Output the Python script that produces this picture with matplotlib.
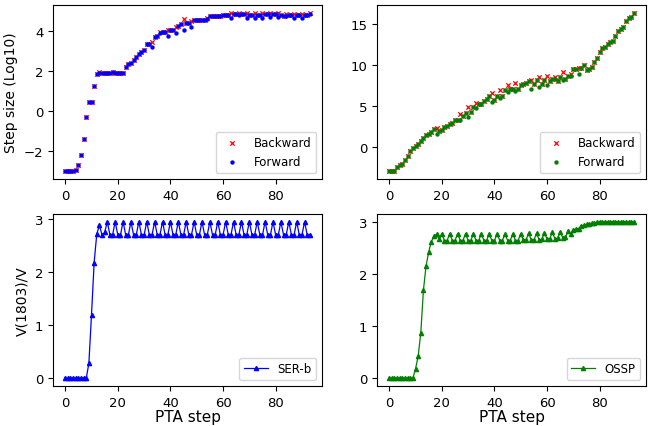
import numpy as np
import matplotlib
matplotlib.use('Agg')
import matplotlib.pyplot as plt

# PTA 步數
steps = np.arange(94)

# 左上：步長 (log10)
ser_forward = [-3.0, -3.0, -3.0, -3.0, -2.95, -2.7, -2.2, -1.4, -0.3, 0.45,
               0.45, 1.25, 1.85, 1.9, 1.88, 1.88, 1.88, 1.88, 1.93, 1.9,
               1.9, 1.9, 1.9, 2.18, 2.35, 2.4, 2.57, 2.7, 2.87, 2.97,
               3.05, 3.35, 3.35, 3.18, 3.68, 3.77, 3.88, 3.97, 3.97, 3.77,
               4.07, 4.07, 3.9, 4.23, 4.35, 4.05, 4.4, 4.4, 4.22, 4.52,
               4.52, 4.52, 4.52, 4.52, 4.6, 4.73, 4.73, 4.73, 4.73, 4.73,
               4.78, 4.8, 4.8, 4.65, 4.82, 4.82, 4.8, 4.82, 4.82, 4.65,
               4.8, 4.8, 4.65, 4.8, 4.8, 4.65, 4.82, 4.82, 4.68, 4.82,
               4.82, 4.68, 4.8, 4.75, 4.75, 4.78, 4.78, 4.65, 4.8, 4.8,
               4.65, 4.8, 4.8, 4.85]
ser_backward = [-3.0, -3.0, -3.0, -3.0, -2.95, -2.7, -2.2, -1.4, -0.3, 0.45,
                0.45, 1.25, 1.85, 1.97, 1.88, 1.88, 1.88, 1.88, 1.93, 1.9,
                1.9, 1.9, 1.9, 2.18, 2.35, 2.4, 2.57, 2.7, 2.87, 2.97,
                3.05, 3.35, 3.35, 3.47, 3.68, 3.77, 3.93, 3.97, 3.97, 4.07,
                4.07, 4.07, 4.18, 4.23, 4.35, 4.6, 4.4, 4.4, 4.47, 4.52,
                4.52, 4.52, 4.52, 4.52, 4.62, 4.73, 4.73, 4.73, 4.73, 4.73,
                4.78, 4.8, 4.8, 4.9, 4.82, 4.82, 4.9, 4.82, 4.82, 4.88,
                4.8, 4.8, 4.88, 4.8, 4.8, 4.9, 4.82, 4.82, 4.9, 4.82,
                4.82, 4.88, 4.8, 4.75, 4.85, 4.78, 4.78, 4.85, 4.8, 4.8,
                4.85, 4.8, 4.8, 4.88]

# 右上：步長
ossp_forward = [-3.0, -3.0, -3.0, -2.5, -2.24, -2.1, -1.7, -1.2, -0.6, -0.2,
                0.1, 0.3, 0.65, 1.0, 1.4, 1.6, 1.74, 2.15, 1.6, 1.94,
                2.0, 2.43, 2.55, 2.75, 2.9, 3.25, 3.3, 3.3, 3.77, 4.1,
                3.57, 4.18, 4.8, 4.67, 5.2, 5.2, 5.6, 5.8, 6.2, 5.48,
                5.72, 6.2, 5.9, 6.2, 6.94, 6.7, 7.0, 7.1, 6.8, 7.1,
                7.5, 7.63, 7.84, 8.04, 7.1, 7.63, 8.1, 7.35, 7.63, 8.16,
                7.5, 8.04, 8.24, 8.3, 8.04, 8.57, 8.16, 8.3, 8.65, 8.65,
                9.46, 9.55, 8.85, 9.67, 10.0, 9.34, 9.5, 9.8, 10.4, 10.85,
                11.6, 12.07, 12.23, 12.5, 12.8, 12.92, 13.6, 14.2, 14.35, 14.67,
                15.36, 15.76, 15.9, 16.37]
ossp_backward = [-3.0, -3.0, -3.0, -2.5, -2.24, -2.1, -1.7, -1.2, -0.6, -0.2,
                 0.1, 0.3, 0.65, 1.0, 1.4, 1.6, 1.74, 2.15, 2.23, 1.94,
                 2.0, 2.43, 2.55, 2.75, 2.9, 3.25, 3.3, 4.0, 3.77, 4.1,
                 4.79, 4.18, 4.8, 5.3, 5.2, 5.2, 5.6, 5.8, 6.2, 6.5,
                 5.72, 6.2, 6.94, 6.2, 6.94, 7.5, 7.0, 7.1, 7.84, 7.1,
                 7.5, 7.63, 7.84, 8.04, 8.16, 7.63, 8.1, 8.5, 7.63, 8.16,
                 8.7, 8.04, 8.24, 8.5, 8.04, 8.57, 9.18, 8.3, 8.65, 8.85,
                 9.46, 9.55, 9.6, 9.67, 10.0, 9.34, 9.5, 9.8, 10.4, 10.85,
                 11.6, 12.07, 12.23, 12.5, 12.8, 12.92, 13.6, 14.2, 14.35, 14.67,
                 15.36, 15.76, 15.9, 16.37]

# 左下：SER-b 電壓比
ser_v = [0.0, 0.0, 0.0, 0.0, 0.0, 0.0, 0.0, 0.0, 0.0, 0.28,
         1.2, 2.18, 2.72, 2.88, 2.7, 2.75, 2.95, 2.7, 2.7, 2.95,
         2.7, 2.7, 2.95, 2.7, 2.7, 2.95, 2.7, 2.7, 2.95, 2.7,
         2.7, 2.95, 2.7, 2.7, 2.95, 2.7, 2.7, 2.95, 2.7, 2.7,
         2.95, 2.7, 2.7, 2.95, 2.7, 2.7, 2.95, 2.7, 2.7, 2.95,
         2.7, 2.7, 2.95, 2.7, 2.7, 2.95, 2.7, 2.7, 2.95, 2.7,
         2.7, 2.95, 2.7, 2.7, 2.95, 2.7, 2.7, 2.95, 2.7, 2.7,
         2.95, 2.7, 2.7, 2.95, 2.7, 2.7, 2.95, 2.7, 2.7, 2.95,
         2.7, 2.7, 2.95, 2.7, 2.7, 2.95, 2.7, 2.7, 2.95, 2.7,
         2.7, 2.95, 2.7, 2.7]

# 右下：OSSP 電壓比
ossp_v = [0.0, 0.0, 0.0, 0.0, 0.0, 0.0, 0.0, 0.0, 0.0, 0.0,
          0.18, 0.42, 0.87, 1.69, 2.15, 2.42, 2.62, 2.72, 2.76, 2.66,
          2.77, 2.64, 2.64, 2.77, 2.64, 2.64, 2.77, 2.64, 2.64, 2.77,
          2.64, 2.64, 2.77, 2.64, 2.64, 2.77, 2.64, 2.64, 2.77, 2.64,
          2.64, 2.77, 2.64, 2.64, 2.77, 2.64, 2.64, 2.77, 2.64, 2.64,
          2.77, 2.65, 2.65, 2.78, 2.65, 2.65, 2.78, 2.65, 2.66, 2.79,
          2.66, 2.67, 2.8, 2.67, 2.68, 2.81, 2.69, 2.7, 2.83, 2.76,
          2.85, 2.86, 2.87, 2.92, 2.93, 2.95, 2.96, 2.97, 2.98, 2.99,
          3.0, 3.0, 3.0, 3.0, 3.0, 3.0, 3.0, 3.0, 3.0, 3.0,
          3.0, 3.0, 3.0, 3.0]

plt.rcParams['font.family'] = ['DejaVu Sans']

fig = plt.figure(figsize=(6.5, 4.27), dpi=100)
ax1 = fig.add_axes([0.0815, 0.5785, 0.414, 0.4075])
ax2 = fig.add_axes([0.580, 0.5785, 0.414, 0.4075])
ax3 = fig.add_axes([0.0815, 0.0937, 0.414, 0.403])
ax4 = fig.add_axes([0.580, 0.0937, 0.414, 0.403])

# 上方：步長散點圖
ax1.scatter(steps, ser_backward, marker='x', c='r', s=10, linewidths=0.9, label='Backward')
ax1.scatter(steps, ser_forward, marker='o', c='b', s=10, linewidths=0, label='Forward')
ax1.set_ylabel('Step size (Log10)', fontsize=10)
ax1.set_yticks([-2, 0, 2, 4])

ax2.scatter(steps, ossp_backward, marker='x', c='r', s=10, linewidths=0.9, label='Backward')
ax2.scatter(steps, ossp_forward, marker='o', c='g', s=10, linewidths=0, label='Forward')
ax2.set_yticks([0, 5, 10, 15])

# 下方：電壓比折線圖
ax3.plot(steps, ser_v, color='b', marker='^', markersize=3, linewidth=0.9, label='SER-b')
ax3.set_ylabel('V(1803)/V', fontsize=10)
ax3.set_xlabel('PTA step', fontsize=11, labelpad=0)

ax4.plot(steps, ossp_v, color='g', marker='^', markersize=3, linewidth=0.9, label='OSSP')
ax4.set_xlabel('PTA step', fontsize=11, labelpad=0)

for ax in (ax1, ax2, ax3, ax4):
    ax.set_xticks([0, 20, 40, 60, 80])
    ax.tick_params(labelsize=9.5)
    ax.legend(loc='lower right', fontsize=8.5)

for ax in (ax3, ax4):
    ax.set_yticks([0, 1, 2, 3])

plt.savefig('out.png', dpi=100)
